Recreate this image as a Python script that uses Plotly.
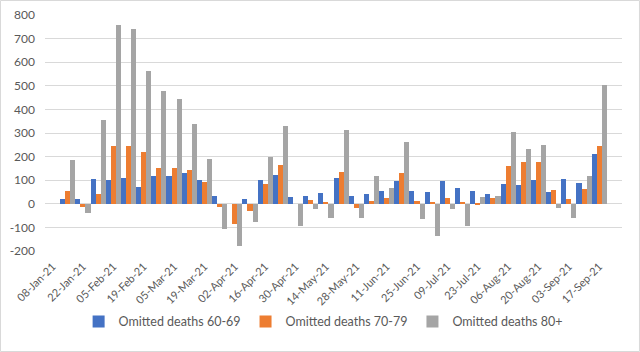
import plotly.graph_objects as go

# Weekly dates (08-Jan-21 .. 24-Sep-21); first and last weeks carry no data
dates = ["08-Jan-21", "15-Jan-21", "22-Jan-21", "29-Jan-21", "05-Feb-21", "12-Feb-21",
         "19-Feb-21", "26-Feb-21", "05-Mar-21", "12-Mar-21", "19-Mar-21", "26-Mar-21",
         "02-Apr-21", "09-Apr-21", "16-Apr-21", "23-Apr-21", "30-Apr-21", "07-May-21",
         "14-May-21", "21-May-21", "28-May-21", "04-Jun-21", "11-Jun-21", "18-Jun-21",
         "25-Jun-21", "02-Jul-21", "09-Jul-21", "16-Jul-21", "23-Jul-21", "30-Jul-21",
         "06-Aug-21", "13-Aug-21", "20-Aug-21", "27-Aug-21", "03-Sep-21", "10-Sep-21",
         "17-Sep-21", "24-Sep-21"]

deaths_60_69 = [None, 20, 20, 103, 99, 110, 71, 118, 119, 129, 100, 33,
                0, 20, 99, 123, 30, 33, 47, 109, 34, 42, 55, 98,
                55, 48, 96, 67, 54, 42, 85, 79, 100, 50, 103, 88,
                210, None]

deaths_70_79 = [None, 54, -13, 41, 246, 244, 218, 150, 153, 144, 92, -13,
                -86, -31, 85, 166, 0, 16, 7, 135, -18, 14, 24, 129,
                10, 4, 23, 6, -7, 24, 159, 178, 176, 57, 20, 62,
                246, None]

deaths_80_plus = [None, 184, -41, 356, 759, 742, 564, 480, 446, 340, 190, -106,
                  -178, -78, 198, 330, -95, -20, -61, 312, -61, 116, 69, 261,
                  -65, -136, -20, -92, 30, 33, 303, 232, 248, -17, -59, 119,
                  503, None]

series_names = ["Omitted deaths 60-69", "Omitted deaths 70-79", "Omitted deaths 80+"]
series_colors = ["#4472C4", "#ED7D31", "#A5A5A5"]

y_ticks = [-200, -100, 0, 100, 200, 300, 400, 500, 600, 700, 800]
x_ticks = dates[0:37:2]

font_family = "Lato, 'Open Sans', sans-serif"
text_color = "#595959"
grid_color = "#D9D9D9"

fig = go.Figure()
for name, vals, col in zip(series_names, [deaths_60_69, deaths_70_79, deaths_80_plus], series_colors):
    fig.add_trace(go.Bar(x=dates, y=vals, name=name, marker=dict(color=col, line=dict(width=0))))

fig.update_layout(
    width=640, height=352,
    margin=dict(l=45, r=18, t=15, b=101, autoexpand=False),
    paper_bgcolor="white", plot_bgcolor="white",
    barmode="group", bargap=0, bargroupgap=0,
    font=dict(family=font_family, size=12, color=text_color),
    showlegend=True,
    legend=dict(orientation="h", x=0.482, xanchor="center", y=-0.30, yanchor="middle",
                font=dict(size=12.5, color=text_color), itemwidth=30,
                bgcolor="rgba(0,0,0,0)"),
    shapes=[dict(type="rect", xref="paper", yref="paper",
                 x0=-0.0771, x1=1.0303, y0=-0.4258, y1=1.0614,
                 line=dict(color=grid_color, width=1), layer="below")],
)

fig.update_xaxes(
    type="category", categoryorder="array", categoryarray=dates,
    tickmode="array", tickvals=x_ticks, ticktext=x_ticks,
    tickangle=-45, tickfont=dict(size=11, color=text_color),
    showgrid=False, showline=False, ticks="", automargin=False,
    ticklabelstandoff=6,
    range=[-0.5, len(dates) - 0.5],
)
fig.update_yaxes(
    range=[-200, 800], tickmode="array", tickvals=y_ticks,
    ticktext=[str(v) for v in y_ticks],
    tickfont=dict(size=12, color=text_color),
    showgrid=True, gridcolor=grid_color, gridwidth=1,
    zeroline=True, zerolinecolor=grid_color, zerolinewidth=1,
    showline=False, ticks="", ticklabelstandoff=9, automargin=False,
)

fig.write_html("out.html")
